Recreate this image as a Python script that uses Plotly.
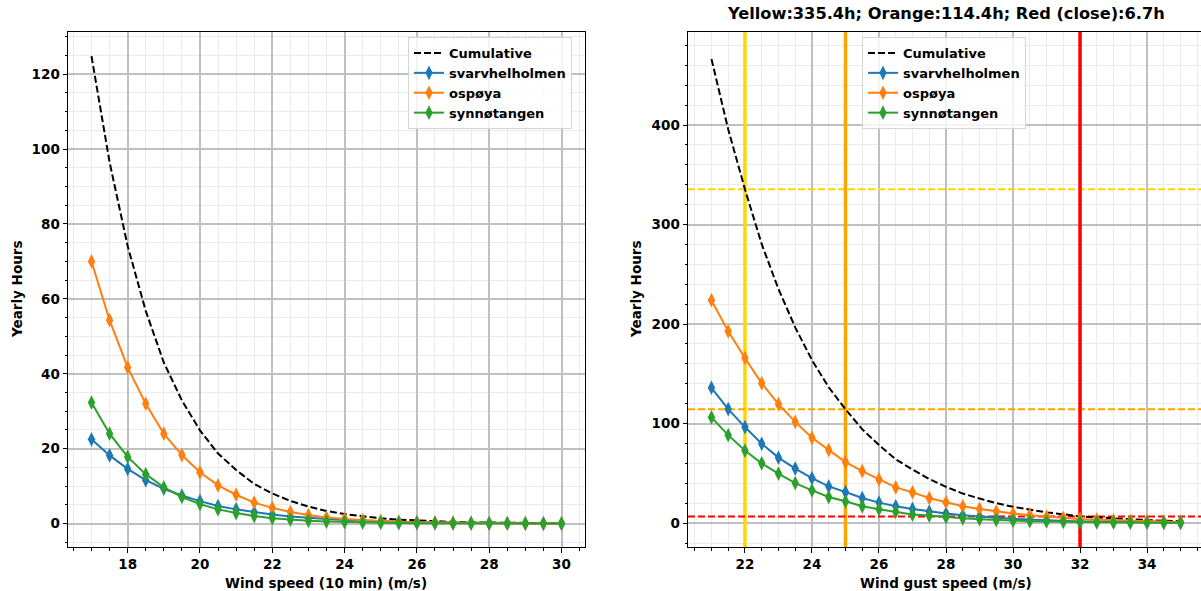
import plotly.graph_objects as go
import numpy as np

# ---------------- data ----------------
wind_speed = [17.0, 17.5, 18.0, 18.5, 19.0, 19.5, 20.0, 20.5, 21.0, 21.5, 22.0, 22.5, 23.0,
              23.5, 24.0, 24.5, 25.0, 25.5, 26.0, 26.5, 27.0, 27.5, 28.0, 28.5, 29.0, 29.5, 30.0]
svarv_10min = [22.5, 18.2, 14.6, 11.6, 9.3, 7.5, 6.0, 4.7, 3.8, 3.0, 2.4, 1.9, 1.5,
               1.2, 0.95, 0.75, 0.6, 0.47, 0.37, 0.29, 0.23, 0.18, 0.14, 0.11, 0.09, 0.07, 0.05]
ospoya_10min = [70.0, 54.3, 41.7, 32.0, 24.0, 18.3, 13.7, 10.2, 7.7, 5.6, 4.2, 3.1, 2.3,
                1.6, 1.2, 0.9, 0.6, 0.45, 0.33, 0.24, 0.17, 0.12, 0.09, 0.06, 0.05, 0.03, 0.02]
synno_10min = [32.3, 24.0, 17.8, 13.2, 9.7, 7.1, 5.2, 3.8, 2.8, 2.0, 1.45, 1.05, 0.75,
               0.55, 0.4, 0.28, 0.2, 0.14, 0.1, 0.07, 0.05, 0.04, 0.03, 0.02, 0.01, 0.01, 0.0]

gust_speed = [21.0, 21.5, 22.0, 22.5, 23.0, 23.5, 24.0, 24.5, 25.0, 25.5, 26.0, 26.5, 27.0, 27.5,
              28.0, 28.5, 29.0, 29.5, 30.0, 30.5, 31.0, 31.5, 32.0, 32.5, 33.0, 33.5, 34.0, 34.5, 35.0]
svarv_gust = [136.0, 114.6, 96.5, 79.7, 65.8, 54.8, 45.2, 36.9, 31.2, 25.2, 20.6, 16.9, 14.3, 11.6,
              9.6, 8.0, 6.5, 5.3, 4.3, 3.5, 2.9, 2.3, 1.7, 1.5, 1.2, 1.0, 0.85, 0.7, 0.55]
ospoya_gust = [224.0, 192.7, 166.0, 140.5, 119.6, 101.7, 85.7, 73.4, 61.3, 52.2, 43.9, 35.9, 30.9, 25.2,
               20.9, 16.9, 14.3, 11.6, 9.6, 8.0, 6.3, 5.3, 4.0, 3.5, 2.8, 2.2, 1.8, 1.4, 1.1]
synno_gust = [106.3, 88.4, 72.9, 60.1, 49.8, 40.2, 32.9, 26.2, 21.9, 16.9, 14.0, 11.3, 8.6, 7.6,
              6.0, 4.8, 3.9, 3.1, 2.5, 2.0, 1.6, 1.3, 1.0, 0.8, 0.65, 0.5, 0.4, 0.33, 0.26]

station_names = ["svarvhelholmen", "ospøya", "synnøtangen"]
station_colors = ["#1f77b4", "#ff7f0e", "#2ca02c"]

threshold_speeds = [22, 25, 32]
threshold_hours = [335.4, 114.4, 6.7]
threshold_colors = ["#FFD700", "#FFA500", "#FF0000"]
title_text = "Yellow:335.4h; Orange:114.4h; Red (close):6.7h"

cum_10min = list(np.array(svarv_10min) + np.array(ospoya_10min) + np.array(synno_10min))
cum_gust = list(np.array(svarv_gust) + np.array(ospoya_gust) + np.array(synno_gust))

# axis ranges (matplotlib-like 5% margins)
x1_range = [16.35, 30.65]
y1_range = [-6.25, 131.25]
x2_range = [20.3, 35.61]
y2_range = [-24.0, 493.5]

# ---------------- figure ----------------
W, H = 1201, 591
FONT = "DejaVu Sans"
FS = 13.5

def px_x(p):
    return p / W

def px_y(p):
    return 1 - p / H

fig = go.Figure()

LW = 2
dash = "7px,3px"

def add_panel(xs, series, cum, xa, ya, legend):
    fig.add_trace(go.Scatter(x=xs, y=cum, mode="lines", name="Cumulative",
                             line=dict(color="black", width=LW, dash=dash),
                             xaxis=xa, yaxis=ya, legend=legend))
    for name, col, ys in zip(station_names, station_colors, series):
        fig.add_trace(go.Scatter(x=xs, y=ys, mode="lines+markers", name=name,
                                 line=dict(color=col, width=LW),
                                 marker=dict(symbol="diamond-tall", size=10.5, color=col),
                                 xaxis=xa, yaxis=ya, legend=legend))

# threshold lines (drawn first so that markers sit on top)
for s, h, c in zip(threshold_speeds, threshold_hours, threshold_colors):
    fig.add_trace(go.Scatter(x=[s, s], y=y2_range, mode="lines", showlegend=False,
                             hoverinfo="skip", line=dict(color=c, width=3.5),
                             xaxis="x2", yaxis="y2"))
    fig.add_trace(go.Scatter(x=x2_range, y=[h, h], mode="lines", showlegend=False,
                             hoverinfo="skip", line=dict(color=c, width=2, dash="7px,3px"),
                             xaxis="x2", yaxis="y2"))

add_panel(wind_speed, [svarv_10min, ospoya_10min, synno_10min], cum_10min, "x", "y", "legend")
add_panel(gust_speed, [svarv_gust, ospoya_gust, synno_gust], cum_gust, "x2", "y2", "legend2")

major_grid = "#c0c0c0"
minor_grid = "#ebebeb"
tickfont = dict(family=FONT, size=FS, color="black", weight="bold")

def axis_common(dtick, minor_dtick, rng, domain, anchor, mirror=True):
    return dict(range=rng, domain=domain, anchor=anchor, dtick=dtick, tick0=0,
                showgrid=True, gridcolor=major_grid, gridwidth=1.5,
                zeroline=False, showline=True, linecolor="black", linewidth=1, mirror=mirror,
                ticks="outside", ticklen=4.5, tickcolor="black", tickfont=tickfont,
                minor=dict(dtick=minor_dtick, tick0=0, showgrid=True, gridcolor=minor_grid,
                           gridwidth=1, ticks="outside", ticklen=2.5, tickcolor="black"))

ydom = [px_y(547), px_y(32)]
legend_common = dict(yanchor="top", xanchor="left",
                     bgcolor="rgba(255,255,255,0.8)", bordercolor="#d5d5d5", borderwidth=1,
                     font=dict(family=FONT, size=13, weight="bold", color="black"),
                     itemwidth=30, tracegroupgap=0)
fig.update_layout(
    width=W, height=H, margin=dict(l=0, r=0, t=0, b=0),
    plot_bgcolor="white", paper_bgcolor="white",
    font=dict(family=FONT, color="black", weight="bold"),
    xaxis=axis_common(2, 0.5, x1_range, [px_x(68), px_x(585)], "y"),
    yaxis=axis_common(20, 5, y1_range, ydom, "x"),
    xaxis2=axis_common(2, 0.5, x2_range, [px_x(688), 1.0], "y2"),
    yaxis2=axis_common(100, 20, y2_range, ydom, "x2", mirror=False),
    legend=dict(x=px_x(408), y=px_y(37), **legend_common),
    legend2=dict(x=px_x(862), y=px_y(37), **legend_common),
    showlegend=True,
)

lab_font = dict(family=FONT, size=FS, weight="bold", color="black")
annots = [
    dict(text="Wind speed (10 min) (m/s)", x=px_x(326), y=px_y(583)),
    dict(text="Wind gust speed (m/s)", x=px_x(946), y=px_y(583)),
    dict(text="Yearly Hours", x=px_x(17), y=px_y(290), textangle=-90),
    dict(text="Yearly Hours", x=px_x(636), y=px_y(290), textangle=-90),
]
for a in annots:
    a.update(xref="paper", yref="paper", showarrow=False, xanchor="center",
             yanchor="middle", font=lab_font)
annots.append(dict(text=title_text, x=px_x(946), y=px_y(14), xref="paper", yref="paper",
                   showarrow=False, xanchor="center", yanchor="middle",
                   font=dict(family=FONT, size=16.2, weight="bold", color="black")))
fig.update_layout(annotations=annots)

fig.write_html("out.html", config={"displayModeBar": False},
               post_script="document.body.style.margin='0';")
